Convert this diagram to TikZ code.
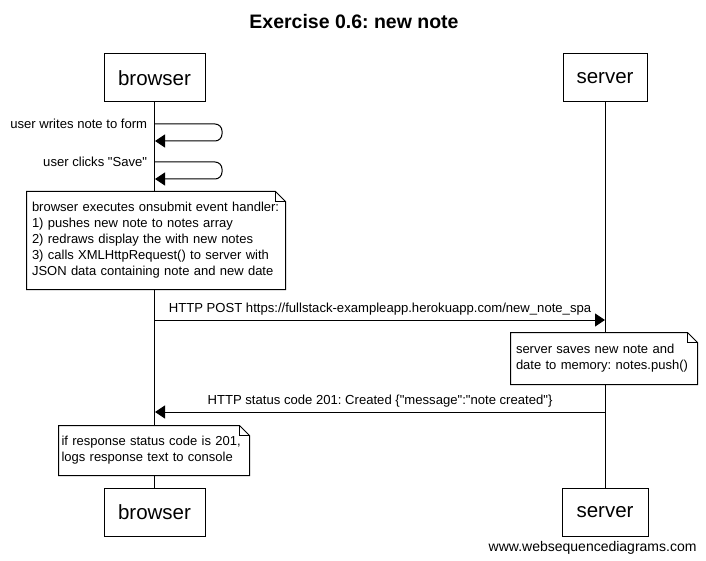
\documentclass[tikz,border=0pt]{standalone}
\usepackage{fontspec}
\setmainfont{Liberation Sans}
\usetikzlibrary{arrows.meta}
\frenchspacing

\begin{document}
\begin{tikzpicture}[x=1pt, y=-1pt, line width=1pt,
	actor/.style={draw, minimum height=48pt, inner xsep=0pt, font=\fontsize{20.5}{24}\selectfont},
	note/.style={fill=white, align=left, inner xsep=5pt, inner ysep=0pt, font=\fontsize{13}{16}\selectfont},
	msg/.style={font=\fontsize{13.1}{15}\selectfont},
	call/.style={-{Triangle[length=10pt, width=13pt]}}]
	\useasboundingbox (0,0) rectangle (706,561);

	\node[font=\bfseries\fontsize{19.5}{23}\selectfont] (title) at (354,22) {Exercise 0.6: new note};

	\node[actor, minimum width=101pt] (b1) at (154.5,78) {browser};
	\node[actor, minimum width=84pt] (s1) at (605,78) {server};
	\node[actor, minimum width=101pt] (b2) at (154.5,512.5) {browser};
	\node[actor, minimum width=86pt] (s2) at (605,512.5) {server};

	\draw (b1) -- (b2);
	\draw (s1) -- (s2);

	% self messages
	\coordinate (w1) at (155,124);
	\coordinate (w2) at (155,141);
	\coordinate (c1) at (155,162);
	\coordinate (c2) at (155,179);
	\draw[call, rounded corners=7pt] (w1) -- ++(67,0) |- (w2);
	\draw[call, rounded corners=7pt] (c1) -- ++(67,0) |- (c2);
	\node[msg, anchor=east] (wl) at ([xshift=-4pt]w1) {user writes note to form};
	\node[msg, anchor=east] (cl) at ([xshift=-4pt]c1) {user clicks \textquotedbl Save\textquotedbl};

	\node[note, text width=248pt, minimum height=97pt] (n1) at (156,240.5)
		{browser executes onsubmit event handler:\\
		1) pushes new note to notes array\\
		2) redraws display the with new notes\\
		3) calls XMLHttpRequest() to server with\\
		JSON data containing note and new date};

	\coordinate (pb) at (155,320);
	\coordinate (ps) at (605,320);
	\draw[call] (pb) -- node[msg, above, yshift=1pt] {HTTP POST https://fullstack-exampleapp.herokuapp.com/new\_note\_spa} (ps);

	\node[note, text width=176pt, minimum height=51pt] (n2) at (604,358.5)
		{server saves new note and\\
		date to memory: notes.push()};

	\coordinate (rs) at (605,412);
	\coordinate (rb) at (155,412);
	\draw[call] (rs) -- node[msg, above, yshift=1pt] {HTTP status code 201: Created \{\textquotedbl message\textquotedbl:\textquotedbl note created\textquotedbl\}} (rb);

	\node[note, text width=185pt, inner xsep=2.5pt, minimum height=49pt] (n3) at (154,450.5)
		{if response status code is 201,\\
		logs response text to console};

	\foreach \n in {n1,n2,n3} {
		\draw (\n.north west) -- ([xshift=-10pt]\n.north east) -- ([yshift=-10pt]\n.north east) -- (\n.south east) -- (\n.south west) -- cycle;
		\draw ([xshift=-10pt]\n.north east) -- ([xshift=-10pt, yshift=-10pt]\n.north east) -- ([yshift=-10pt]\n.north east);
	}

	\node[msg, font=\fontsize{14}{16}\selectfont, inner sep=0pt, anchor=base east] (site) at (697,551) {www.websequencediagrams.com};
\end{tikzpicture}
\end{document}
